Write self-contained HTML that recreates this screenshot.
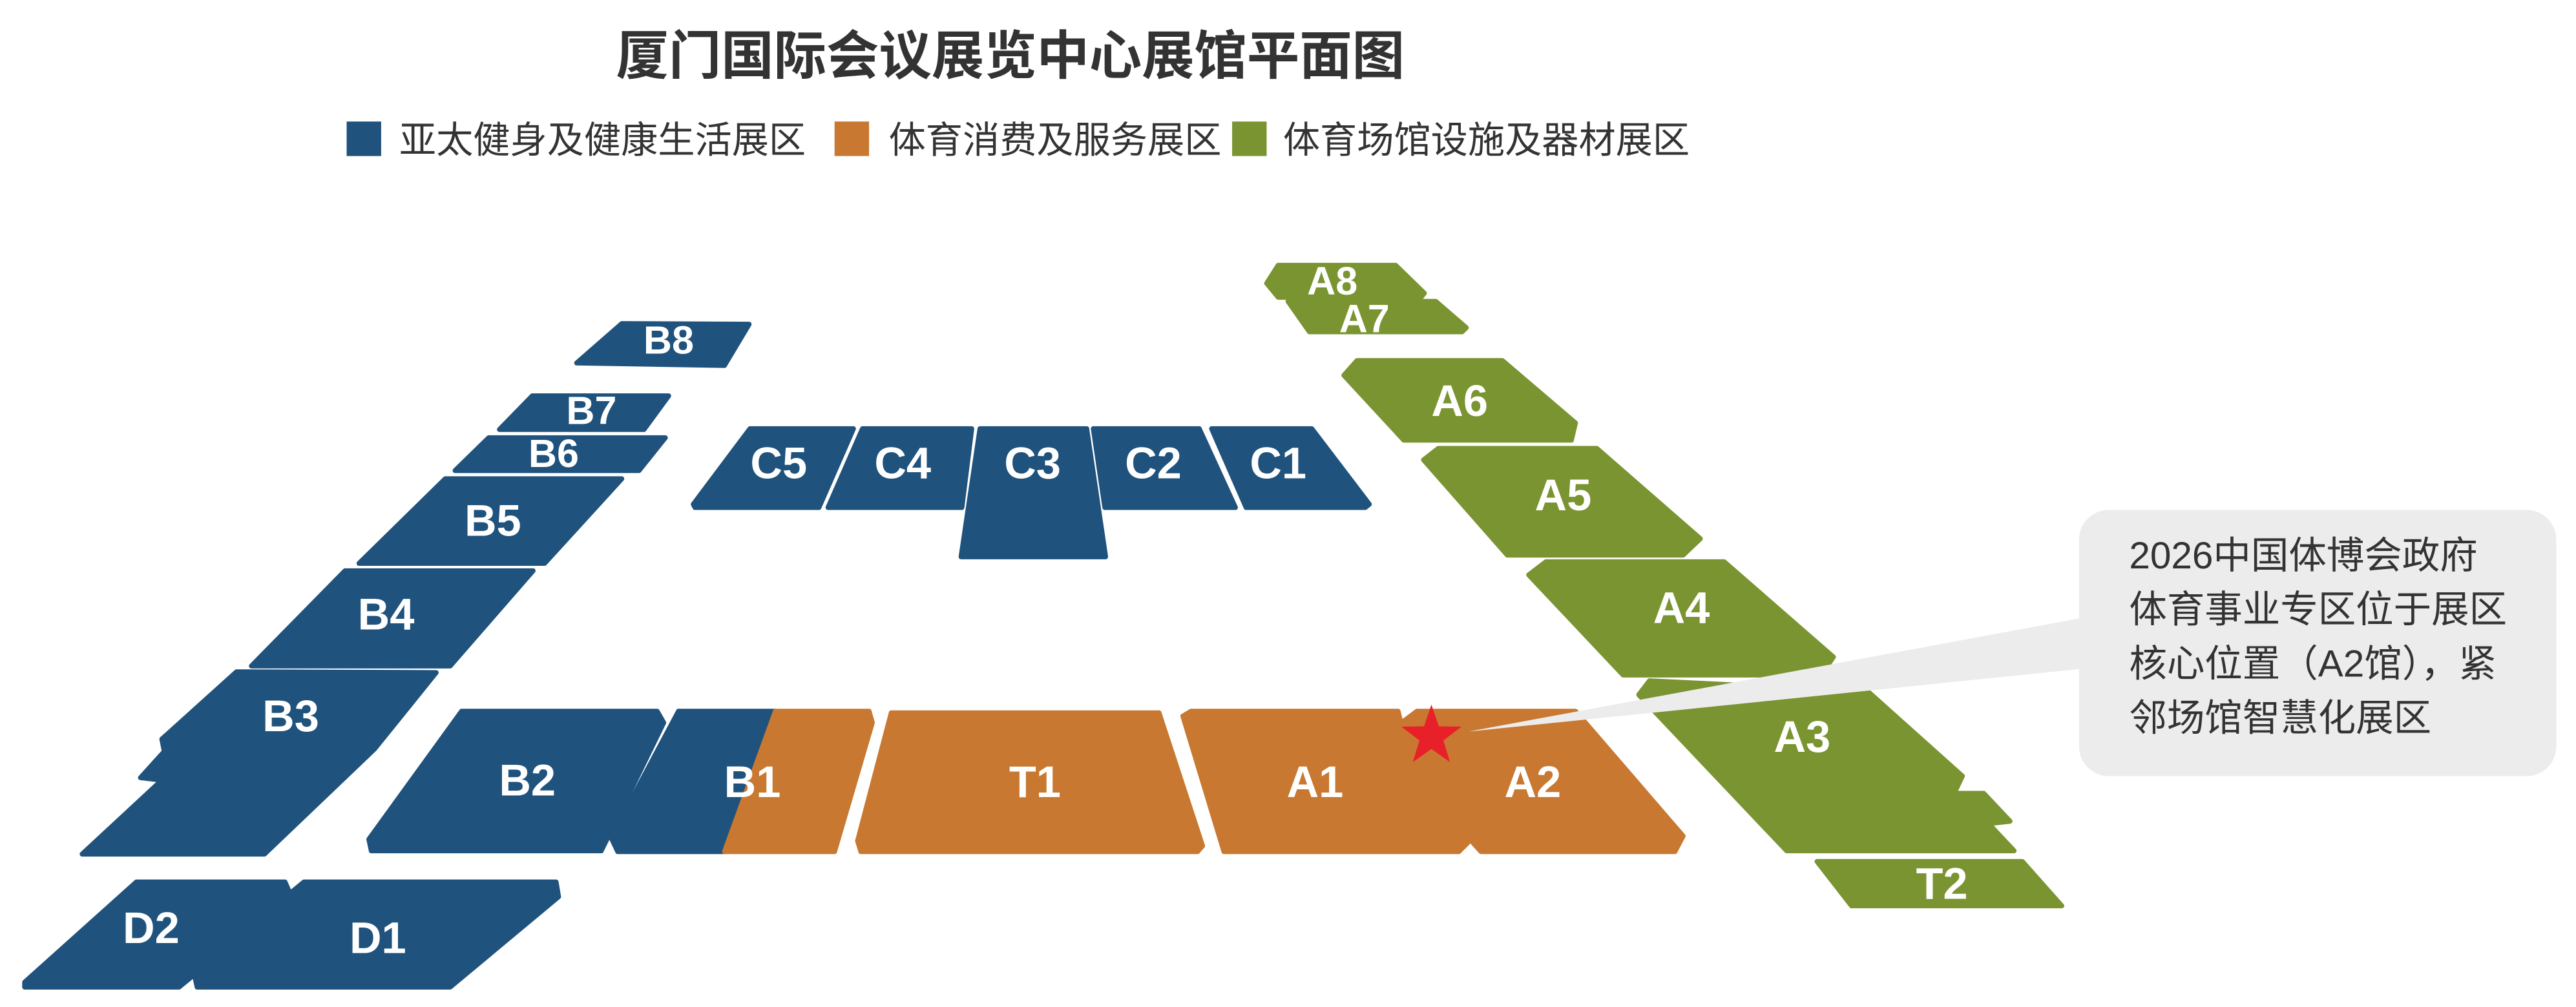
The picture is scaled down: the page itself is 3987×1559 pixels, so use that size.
<!DOCTYPE html>
<html><head><meta charset="utf-8"><style>
html,body{margin:0;padding:0;background:#fff;}
svg{display:block;}
text{font-family:"Liberation Sans","Noto Sans CJK SC",sans-serif;}
.l{fill:#fff;font-weight:bold;font-size:27px;text-anchor:middle;dominant-baseline:central;}
.s{font-size:24px;}
.b{fill:#1f527c;stroke:#1f527c;stroke-width:3;stroke-linejoin:round;}
.o{fill:#c87830;stroke:#c87830;stroke-width:3;stroke-linejoin:round;}
.g{fill:#7a9431;stroke:#7a9431;stroke-width:3;stroke-linejoin:round;}
</style></head><body>
<svg width="3987" height="1559" viewBox="0 0 1568 613.1" preserveAspectRatio="none" xmlns="http://www.w3.org/2000/svg">
<text x="615" y="45" text-anchor="middle" font-size="32" font-weight="bold" fill="#333">厦门国际会议展览中心展馆平面图</text>
<rect x="211" y="74" width="21" height="21" fill="#1f527c"/>
<text x="243" y="93" font-size="22.5" fill="#333">亚太健身及健康生活展区</text>
<rect x="508" y="74" width="21" height="21" fill="#c87830"/>
<text x="541" y="93" font-size="22.5" fill="#333">体育消费及服务展区</text>
<rect x="750" y="74" width="21" height="21" fill="#7a9431"/>
<text x="781" y="93" font-size="22.5" fill="#333">体育场馆设施及器材展区</text>

<!-- B column -->
<polygon class="b" points="351,221 378.5,197 456,197.4 441,222.5"/>
<polygon class="b" points="304,261.5 324,241 407,241 392,261.5"/>
<polygon class="b" points="277,286.5 297.5,266.5 405,266.5 389,286.5"/>
<polygon class="b" points="218.5,343 271,291.5 378.5,291.5 331.5,343"/>
<polygon class="b" points="153,405.5 210,347.5 324.5,347.5 274,405.5"/>
<polygon class="b" points="144,409 265.5,409.5 228,456 161,520 50,520 98.5,475 85.5,473.5 100,457.5 98.5,450"/>
<polygon class="b" points="281,433 400,433 404,440 366,518 226,518 224.5,511"/>
<polygon class="b" points="413,433 472,433 441,518.5 376,518.5 372,510"/>
<polygon class="o" points="472,433 529,433 531,440 508,518.5 441,518.5"/>
<polygon class="b" points="15,598 83,537 173.5,537 177,545 109,601 15,601"/>
<polygon class="b" points="185,537 338.5,537 340,546 274,601 120,601 118,592"/>
<!-- C row -->
<polygon class="b" points="422,307 456.5,261 519.5,261 498.5,309 423,309"/>
<polygon class="b" points="504,309 525,261 591.5,261 585.5,309"/>
<polygon class="b" points="585,339 596.5,261 661.5,261 673,339"/>
<polygon class="b" points="665.5,261 730,261 752,309 672.5,309"/>
<polygon class="b" points="737.5,261 798.5,261 833.5,307 831,309 758.5,309"/>
<!-- bottom row -->
<polygon class="o" points="542.5,434 705.5,434 732,515 729,518.5 524,518.5 522,512"/>
<polygon class="o" points="720,436 725,433 851,433 853,441 893.5,513 888,518.5 745,518.5"/>
<polygon class="o" points="854.5,439 862.5,433 959,433 1024.5,509 1019.5,518.5 901.5,518.5 896.5,513"/>
<!-- A column -->
<polygon class="g" points="771,172.5 778,161.5 849.5,161.5 867,178.5 865,181 778,181"/>
<polygon class="g" points="784,183.5 874,183.5 892.5,199.5 890,202 797,202"/>
<polygon class="g" points="818,228.5 826,219.5 914.5,219.5 959,257.5 956.5,268 854.5,268"/>
<polygon class="g" points="866.5,280 875.5,273 972,273 1035,328 1024.5,338 917.5,338"/>
<polygon class="g" points="930.5,350 941,342 1049.5,342 1116,400 1108.5,411 988,411"/>
<polygon class="g" points="997.5,423 1004,414.5 1137,421 1194.5,472.5 1189.5,483 1207.5,483 1223.5,500 1210.5,501.5 1226,518 1087.5,518"/>
<polygon class="g" points="1106,524.5 1231,524.5 1255,551.5 1127,551.5"/>

<!-- callout -->
<polygon points="893.8,445.4 1270,375.7 1270,406.9" fill="#ececec"/>
<rect x="1265.5" y="310.5" width="290.5" height="162" rx="18" fill="#ececec"/>
<g font-size="23" fill="#333">
<text x="1296" y="346">2026中国体博会政府</text>
<text x="1296" y="379">体育事业专区位于展区</text>
<text x="1296" y="412">核心位置（A2馆），紧</text>
<text x="1296" y="445">邻场馆智慧化展区</text>
</g>
<!-- star -->
<polygon fill="#e8202a" points="871.3,429 875.8,442.2 889.6,442.4 878.6,450.8 882.6,464 871.3,456 860,464 864,450.8 853,442.4 866.8,442.2"/>

<!-- labels -->
<text class="l s" x="407" y="207">B8</text>
<text class="l s" x="360" y="250">B7</text>
<text class="l s" x="337" y="276">B6</text>
<text class="l" x="300" y="317">B5</text>
<text class="l" x="235" y="374">B4</text>
<text class="l" x="177" y="436">B3</text>
<text class="l" x="321" y="475">B2</text>
<text class="l" x="458" y="476">B1</text>
<text class="l" x="92" y="565">D2</text>
<text class="l" x="230" y="571">D1</text>
<text class="l" x="474" y="282">C5</text>
<text class="l" x="549.5" y="282">C4</text>
<text class="l" x="628.5" y="282">C3</text>
<text class="l" x="702" y="282">C2</text>
<text class="l" x="778" y="282">C1</text>
<text class="l" x="630" y="476">T1</text>
<text class="l" x="800.5" y="476">A1</text>
<text class="l" x="933" y="476">A2</text>
<text class="l s" x="811" y="171">A8</text>
<text class="l s" x="830.5" y="194">A7</text>
<text class="l" x="888.5" y="244">A6</text>
<text class="l" x="951.5" y="301.5">A5</text>
<text class="l" x="1023.5" y="370">A4</text>
<text class="l" x="1097" y="448.5">A3</text>
<text class="l" x="1182" y="538">T2</text>
</svg>
</body></html>
